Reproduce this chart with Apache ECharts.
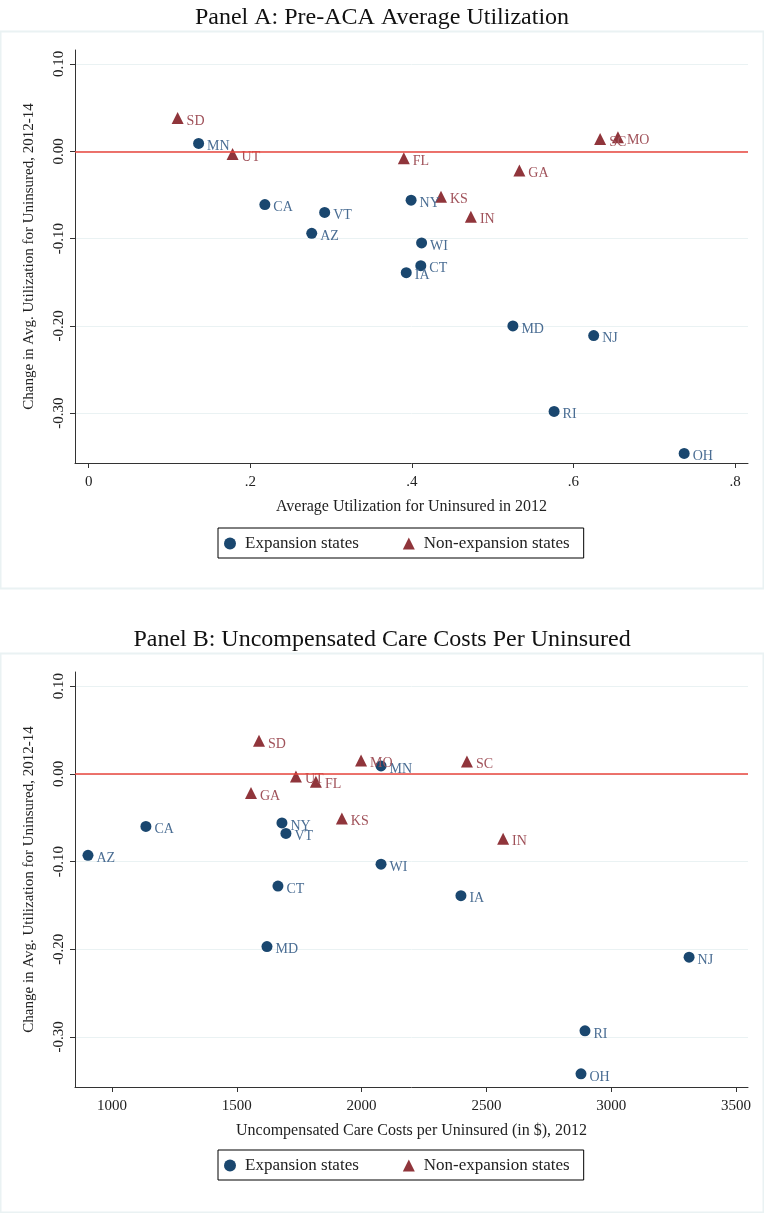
<!DOCTYPE html>
<html>
<head>
<meta charset="UTF-8">
<title>panels</title>
<script src="https://cdn.jsdelivr.net/npm/echarts@6/dist/echarts.min.js"></script>
<style>
*{margin:0;padding:0}
html,body{width:100%;height:100%;background:#fff}
#main{width:764px;height:1213px}
</style>
</head>
<body>
<div id="main"></div>
<script>
// Panel A: [avg utilization 2012, change 2012-14, state]
var expA = [
    [0.136, 0.009, 'MN'], [0.218, -0.061, 'CA'], [0.292, -0.070, 'VT'], [0.276, -0.094, 'AZ'],
    [0.399, -0.056, 'NY'], [0.412, -0.105, 'WI'], [0.411, -0.131, 'CT'], [0.393, -0.139, 'IA'],
    [0.525, -0.200, 'MD'], [0.625, -0.211, 'NJ'], [0.576, -0.298, 'RI'], [0.737, -0.346, 'OH']
];
var nonA = [
    [0.110, 0.038, 'SD'], [0.178, -0.003, 'UT'], [0.390, -0.008, 'FL'], [0.436, -0.052, 'KS'],
    [0.473, -0.075, 'IN'], [0.533, -0.022, 'GA'], [0.633, 0.014, 'SC'], [0.655, 0.016, 'MO']
];
// Panel B: [uncompensated care cost per uninsured, change, state]
var expB = [
    [904, -0.093, 'AZ'], [1136, -0.060, 'CA'], [1681, -0.056, 'NY'], [1697, -0.068, 'VT'],
    [1665, -0.128, 'CT'], [1621, -0.197, 'MD'], [2078, -0.103, 'WI'], [2078, 0.009, 'MN'],
    [2398, -0.139, 'IA'], [3312, -0.209, 'NJ'], [2895, -0.293, 'RI'], [2879, -0.342, 'OH']
];
var nonB = [
    [1589, 0.0375, 'SD'], [1737, -0.003, 'UT'], [1817, -0.009, 'FL'], [1998, 0.015, 'MO'],
    [1557, -0.022, 'GA'], [1921, -0.051, 'KS'], [2422, 0.014, 'SC'], [2567, -0.074, 'IN']
];
var yTicks = [-0.3, -0.2, -0.1, 0, 0.1];
var xTicksA = [0, 0.2, 0.4, 0.6, 0.8];
var xTicksB = [1000, 1500, 2000, 2500, 3000, 3500];

var font = 'Liberation Serif';
var expColor = '#1a476f', nonColor = '#90353b';

function xAxis(idx, min, max, ticks, name, fmt) {
    return {
        type: 'value', gridIndex: idx, min: min, max: max,
        name: name, nameLocation: 'middle', nameGap: 36,
        nameTextStyle: {fontFamily: font, fontSize: 16, color: '#222'},
        axisLine: {onZero: false, lineStyle: {color: '#333'}},
        axisTick: {show: true, length: 5, lineStyle: {color: '#333'}, customValues: ticks},
        axisLabel: {fontFamily: font, fontSize: 15, color: '#222', customValues: ticks, formatter: fmt, margin: 12},
        splitLine: {show: false}
    };
}
function yAxis(idx) {
    return {
        type: 'value', gridIndex: idx, min: -0.357, max: 0.116,
        name: 'Change in Avg. Utilization for Uninsured, 2012-14',
        nameLocation: 'middle', nameGap: 38, nameRotate: 90,
        nameTextStyle: {fontFamily: font, fontSize: 15, color: '#222'},
        axisLine: {onZero: false, lineStyle: {color: '#333'}},
        axisTick: {show: true, length: 5, lineStyle: {color: '#333'}, customValues: yTicks},
        axisLabel: {fontFamily: font, fontSize: 15, color: '#222', rotate: 90, customValues: yTicks,
            formatter: function (v) { return v.toFixed(2); }, margin: 8},
        splitLine: {show: true, lineStyle: {color: '#eaf2f3'}, customValues: yTicks}
    };
}
function series(name, data, idx, symbol, color, label, refLine) {
    var s = {
        name: name, type: 'scatter', xAxisIndex: idx, yAxisIndex: idx,
        symbol: symbol, symbolSize: symbol === 'circle' ? 11 : 12,
        itemStyle: {color: color, opacity: 1},
        label: {show: true, position: 'right', distance: 3, offset: [0, 3], fontFamily: font, fontSize: 14, color: label,
            formatter: function (p) { return p.data[2]; }},
        data: data
    };
    if (refLine) {
        s.markLine = {silent: true, symbol: 'none', label: {show: false},
            lineStyle: {color: '#e8453c', width: 1.5, type: 'solid'}, data: [{yAxis: 0}]};
    }
    return s;
}
function legend(top) {
    return {
        left: 218, top: top, orient: 'horizontal', itemGap: 44, itemWidth: 12, itemHeight: 12,
        borderColor: '#000', borderWidth: 1, padding: [7, 14, 6, 6],
        textStyle: {fontFamily: font, fontSize: 17, color: '#222', padding: [3, 0, 0, 4]},
        data: [{name: 'Expansion states', icon: 'circle'}, {name: 'Non-expansion states', icon: 'triangle'}]
    };
}

var chart = echarts.init(document.getElementById('main'));
chart.setOption({
    animation: false,
    backgroundColor: '#fff',
    title: [
        {text: 'Panel A: Pre-ACA Average Utilization', left: 'center', top: 1,
            textStyle: {fontFamily: font, fontSize: 24, fontWeight: 'normal', color: '#111'}},
        {text: 'Panel B: Uncompensated Care Costs Per Uninsured', left: 'center', top: 623,
            textStyle: {fontFamily: font, fontSize: 24, fontWeight: 'normal', color: '#111'}}
    ],
    graphic: [
        {type: 'rect', shape: {x: 0.5, y: 31.5, width: 763, height: 557}, style: {fill: 'none', stroke: '#eaf2f3', lineWidth: 2}, z: -1},
        {type: 'rect', shape: {x: 0.5, y: 653.5, width: 763, height: 559}, style: {fill: 'none', stroke: '#eaf2f3', lineWidth: 2}, z: -1}
    ],
    legend: [legend(528), legend(1150)],
    grid: [
        {left: 75, right: 16, top: 50, height: 413},
        {left: 75, right: 16, top: 672, height: 415}
    ],
    xAxis: [
        xAxis(0, -0.017, 0.816, xTicksA, 'Average Utilization for Uninsured in 2012',
            function (v) { return v === 0 ? '0' : String(v).replace(/^0/, ''); }),
        xAxis(1, 852, 3548, xTicksB, 'Uncompensated Care Costs per Uninsured (in $), 2012',
            function (v) { return String(v); })
    ],
    yAxis: [yAxis(0), yAxis(1)],
    series: [
        series('Expansion states', expA, 0, 'circle', expColor, '#4a6d93', true),
        series('Non-expansion states', nonA, 0, 'triangle', nonColor, '#a0525a', false),
        series('Expansion states', expB, 1, 'circle', expColor, '#4a6d93', true),
        series('Non-expansion states', nonB, 1, 'triangle', nonColor, '#a0525a', false)
    ]
});
</script>
</body>
</html>
